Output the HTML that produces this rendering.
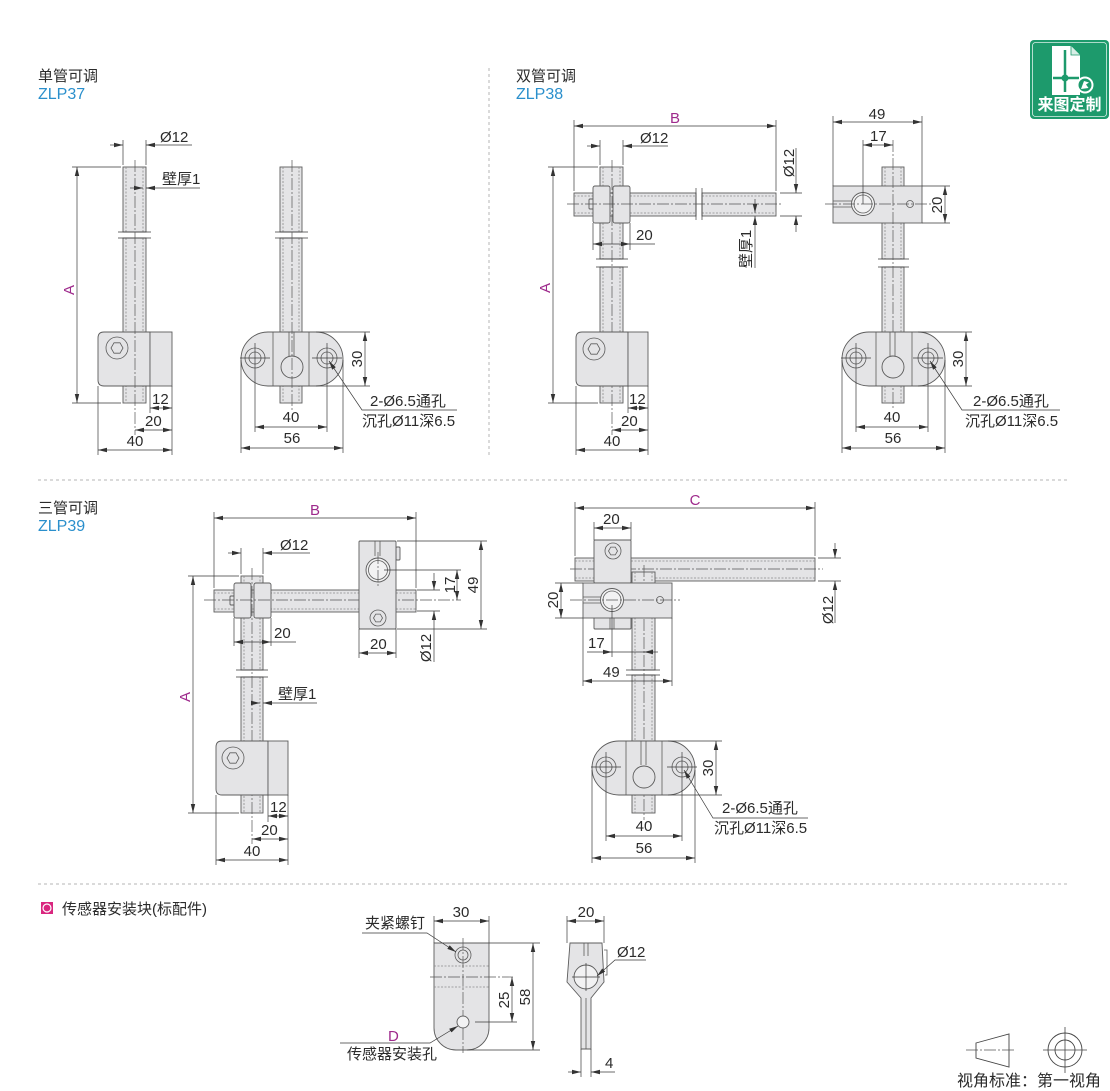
<!DOCTYPE html>
<html><head><meta charset="utf-8">
<style>
html,body{margin:0;padding:0;background:#fff;}
svg{display:block}
.o{fill:#e4e4e6;stroke:#5c5c5c;stroke-width:0.9}
.w{fill:#f2f2f3;stroke:#5c5c5c;stroke-width:0.9}
.k{fill:none;stroke:#5c5c5c;stroke-width:0.8}
.d{stroke:#3a3a3a;stroke-width:0.7;fill:none}
.dd{stroke:#3a3a3a;stroke-width:0.7;fill:none;marker-start:url(#a);marker-end:url(#a)}
.de{stroke:#3a3a3a;stroke-width:0.7;fill:none;marker-end:url(#a)}
.cl{stroke:#555;stroke-width:0.7;stroke-dasharray:12 2 2 2;fill:none}
.hd{stroke:#8a8a8a;stroke-width:0.8;stroke-dasharray:2 1.5;fill:none}
.sep{stroke:#b4b4b4;stroke-width:1;stroke-dasharray:3 3;fill:none}
text{font-family:"Liberation Sans","Noto Sans CJK SC",sans-serif;fill:#2b2b2b;font-size:15px}
.m{fill:#9e2a8c}
.b{fill:#2a8fcc;font-size:16px}
.cn{font-size:15px}
</style></head><body>
<svg width="1110" height="1091" viewBox="0 0 1110 1091" xmlns="http://www.w3.org/2000/svg">
<defs>
<marker id="a" viewBox="0 0 9 6" refX="9" refY="3" markerWidth="9" markerHeight="6" markerUnits="userSpaceOnUse" orient="auto-start-reverse"><path d="M0,0.8L9,3L0,5.2Z" fill="#333"/></marker>
</defs>

<!-- separators -->
<line class="sep" x1="489" y1="68" x2="489" y2="457"/>
<line class="sep" x1="38" y1="480" x2="1070" y2="480"/>
<line class="sep" x1="38" y1="884" x2="1070" y2="884"/>

<!-- logo -->
<rect x="1030" y="40" width="79" height="79" rx="4" fill="#1d9a6c"/>
<rect x="1032.5" y="42.5" width="74" height="74" rx="3" fill="none" stroke="#fff" stroke-width="0.8" opacity="0.85"/>
<path d="M1052,46H1071L1080,55V95H1052Z" fill="#fff"/>
<path d="M1071,46V55H1080" fill="#d8eee6" stroke="#1d9a6c" stroke-width="0.8"/>
<path d="M1065,50V92M1053,78H1079" stroke="#1d9a6c" stroke-width="2.5"/>
<circle cx="1065" cy="78" r="3.5" fill="#1d9a6c"/>
<circle cx="1085" cy="85" r="7.5" fill="#1d9a6c" stroke="#fff" stroke-width="2"/>
<path d="M1081,89L1084,81L1089,82.5L1086,84.5L1088.5,88Z" fill="#fff"/>
<text x="1069.5" y="110" text-anchor="middle" font-weight="bold" font-size="16" style="fill:#fff;font-size:16px">来图定制</text>

<!-- ================= ZLP37 ================= -->
<text x="38" y="81" class="cn">单管可调</text>
<text x="38" y="99" class="b">ZLP37</text>

<!-- left view -->
<rect class="o" x="123" y="167" width="23" height="65"/>
<rect class="o" x="123" y="238" width="23" height="165"/>
<path class="hd" d="M126,167V232M143,167V232M126,238V403M143,238V403"/>
<path class="d" d="M118,232H151M118,238H151"/>
<path class="o" d="M104,332H150V386H104Q98,386 98,380V338Q98,332 104,332Z"/>
<rect class="o" x="150" y="332" width="22" height="54"/>
<circle class="k" cx="117" cy="348" r="11"/>
<polygon class="k" points="123,348 120,353.2 114,353.2 111,348 114,342.8 120,342.8"/>
<line class="cl" x1="135" y1="160" x2="135" y2="435"/>
<!-- dims -->
<path class="d" d="M123,140V165M146,140V165"/>
<line class="de" x1="110" y1="145" x2="123" y2="145"/>
<line class="de" x1="192" y1="145" x2="146" y2="145"/>
<text x="160" y="142">Ø12</text>
<line class="de" x1="130" y1="188" x2="143" y2="188"/>
<line class="de" x1="200" y1="188" x2="146" y2="188"/>
<text x="162" y="184">壁厚1</text>
<path class="d" d="M72,167H121M72,403H121"/>
<line class="dd" x1="77" y1="167" x2="77" y2="403"/>
<text class="m" transform="translate(74,290) rotate(-90)" text-anchor="middle">A</text>
<path class="d" d="M150,386V413M172,386V455M98,386V455"/>
<line class="dd" x1="150" y1="408" x2="172" y2="408"/>
<text x="152" y="404">12</text>
<line class="dd" x1="135" y1="430" x2="172" y2="430"/>
<text x="145" y="426">20</text>
<line class="dd" x1="98" y1="450" x2="172" y2="450"/>
<text x="135" y="446" text-anchor="middle">40</text>

<!-- right view -->
<rect class="o" x="280" y="167" width="22" height="65"/>
<rect class="o" x="280" y="238" width="22" height="165"/>
<path class="hd" d="M283,167V232M299,167V232M283,238V403M299,238V403"/>
<path class="d" d="M275,232H308M275,238H308"/>
<path class="o" d="M268,332H316A27,27 0 0 1 316,386H268A27,27 0 0 1 268,332Z"/>
<path class="k" d="M273,332V386M309,332V386M289,332V356M294,332V356"/>
<circle class="o" cx="292" cy="367" r="11"/>
<circle class="k" cx="255" cy="358" r="10"/><circle class="k" cx="255" cy="358" r="6"/>
<circle class="k" cx="327" cy="358" r="10"/><circle class="k" cx="327" cy="358" r="6"/>
<path class="d" d="M240,358H270M255,343V373M312,358H342M327,343V373"/>
<line class="cl" x1="292" y1="160" x2="292" y2="410"/>
<path class="d" d="M316,332H370M316,386H370"/>
<line class="dd" x1="365" y1="332" x2="365" y2="386"/>
<text transform="translate(362,359) rotate(-90)" text-anchor="middle">30</text>
<polyline class="de" points="457,410 362,410 329,361"/>
<text x="370" y="406">2-Ø6.5通孔</text>
<text x="362" y="426">沉孔Ø11深6.5</text>
<path class="d" d="M255,373V432M327,373V432M241,360V453M343,360V453"/>
<line class="dd" x1="255" y1="427" x2="327" y2="427"/>
<text x="291" y="422" text-anchor="middle">40</text>
<line class="dd" x1="241" y1="448" x2="343" y2="448"/>
<text x="292" y="443" text-anchor="middle">56</text>

<!-- ================= ZLP38 ================= -->
<text x="516" y="81" class="cn">双管可调</text>
<text x="516" y="99" class="b">ZLP38</text>

<!-- left view -->
<rect class="o" x="600" y="167" width="23" height="92"/>
<rect class="o" x="600" y="267" width="23" height="136"/>
<path class="hd" d="M603,167V259M620,167V259M603,267V403M620,267V403"/>
<path class="d" d="M596,259H628M596,267H628"/>
<rect class="o" x="574" y="193" width="122" height="23"/>
<rect class="o" x="702" y="193" width="74" height="23"/>
<path class="hd" d="M574,196H696M574,213H696M702,196H776M702,213H776"/>
<path class="d" d="M696,188V220M702,188V220"/>
<rect class="o" x="589" y="199" width="5" height="10" rx="1"/>
<rect class="o" x="593" y="186" width="17" height="37" rx="2"/>
<rect class="o" x="613" y="186" width="17" height="37" rx="2"/>
<line class="cl" x1="567" y1="204" x2="782" y2="204"/>
<line class="cl" x1="612" y1="160" x2="612" y2="435"/>
<path class="o" d="M582,332H628V386H582Q576,386 576,380V338Q576,332 582,332Z"/>
<rect class="o" x="628" y="332" width="20" height="54"/>
<circle class="k" cx="594" cy="349" r="11"/>
<polygon class="k" points="600,349 597,354.2 591,354.2 588,349 591,343.8 597,343.8"/>
<!-- dims -->
<path class="d" d="M574,120V191M776,120V191"/>
<line class="dd" x1="574" y1="126" x2="776" y2="126"/>
<text class="m" x="675" y="123" text-anchor="middle">B</text>
<path class="d" d="M600,140V165M623,140V165"/>
<line class="de" x1="587" y1="146" x2="600" y2="146"/>
<line class="de" x1="668" y1="146" x2="623" y2="146"/>
<text x="640" y="143">Ø12</text>
<path class="d" d="M548,167H598M548,403H598"/>
<line class="dd" x1="553" y1="167" x2="553" y2="403"/>
<text class="m" transform="translate(550,288) rotate(-90)" text-anchor="middle">A</text>
<path class="d" d="M780,193H802M780,216H802"/>
<line class="de" x1="796" y1="148" x2="796" y2="193"/>
<line class="de" x1="796" y1="232" x2="796" y2="216"/>
<text transform="translate(794,163) rotate(-90)" text-anchor="middle">Ø12</text>
<line class="de" x1="755" y1="199" x2="755" y2="213"/>
<line class="de" x1="755" y1="268" x2="755" y2="216"/>
<text transform="translate(751,249) rotate(-90)" text-anchor="middle">壁厚1</text>
<path class="d" d="M593,223V250M630,223V250"/>
<line class="dd" x1="593" y1="244" x2="630" y2="244"/>
<line class="d" x1="630" y1="244" x2="655" y2="244"/>
<text x="636" y="240">20</text>
<path class="d" d="M628,386V413M648,386V455M576,386V455"/>
<line class="dd" x1="628" y1="408" x2="648" y2="408"/>
<text x="629" y="404">12</text>
<line class="dd" x1="612" y1="430" x2="648" y2="430"/>
<text x="621" y="426">20</text>
<line class="dd" x1="576" y1="450" x2="648" y2="450"/>
<text x="612" y="446" text-anchor="middle">40</text>

<!-- right view -->
<rect class="o" x="882" y="167" width="22" height="92"/>
<rect class="o" x="882" y="267" width="22" height="136"/>
<path class="hd" d="M885,167V259M901,167V259M885,267V403M901,267V403"/>
<path class="d" d="M878,259H909M878,267H909"/>
<rect class="o" x="833" y="186" width="89" height="37"/>
<path class="k" d="M833,201H852M833,207H852"/>
<circle class="w" cx="863" cy="204" r="11.5"/>
<circle class="k" cx="863" cy="204" r="9"/>
<circle class="k" cx="910" cy="204" r="3.5"/>
<line class="cl" x1="825" y1="204" x2="935" y2="204"/>
<line class="cl" x1="893" y1="140" x2="893" y2="410"/>
<path class="o" d="M869,332H918A27,27 0 0 1 918,386H869A27,27 0 0 1 869,332Z"/>
<path class="k" d="M876,332V386M912,332V386M890,332V356M895,332V356"/>
<circle class="o" cx="893" cy="367" r="11"/>
<circle class="k" cx="856" cy="358" r="10"/><circle class="k" cx="856" cy="358" r="6"/>
<circle class="k" cx="928" cy="358" r="10"/><circle class="k" cx="928" cy="358" r="6"/>
<path class="d" d="M841,358H871M856,343V373M913,358H943M928,343V373"/>
<!-- dims -->
<path class="d" d="M833,116V186M922,116V186M863,140V204"/>
<line class="dd" x1="833" y1="122" x2="922" y2="122"/>
<text x="877" y="119" text-anchor="middle">49</text>
<line class="dd" x1="863" y1="145" x2="893" y2="145"/>
<text x="870" y="141">17</text>
<path class="d" d="M922,186H950M922,223H950"/>
<line class="dd" x1="945" y1="186" x2="945" y2="223"/>
<text transform="translate(942,205) rotate(-90)" text-anchor="middle">20</text>
<path class="d" d="M918,332H972M918,386H972"/>
<line class="dd" x1="966" y1="332" x2="966" y2="386"/>
<text transform="translate(963,359) rotate(-90)" text-anchor="middle">30</text>
<polyline class="de" points="1060,410 962,410 930,361"/>
<text x="973" y="406">2-Ø6.5通孔</text>
<text x="965" y="426">沉孔Ø11深6.5</text>
<path class="d" d="M856,373V432M928,373V432M842,360V453M945,360V453"/>
<line class="dd" x1="856" y1="427" x2="928" y2="427"/>
<text x="892" y="422" text-anchor="middle">40</text>
<line class="dd" x1="842" y1="448" x2="945" y2="448"/>
<text x="893" y="443" text-anchor="middle">56</text>

<!-- ================= ZLP39 ================= -->
<text x="38" y="513" class="cn">三管可调</text>
<text x="38" y="531" class="b">ZLP39</text>

<!-- left view -->
<rect class="o" x="241" y="576" width="22" height="94"/>
<rect class="o" x="241" y="677" width="22" height="136"/>
<path class="hd" d="M244,576V670M260,576V670M244,677V813M260,677V813"/>
<path class="d" d="M236,670H268M236,677H268"/>
<rect class="o" x="214" y="590" width="202" height="22"/>
<path class="hd" d="M214,593H416M214,609H416"/>
<rect class="o" x="230" y="596" width="5" height="9" rx="1"/>
<rect class="o" x="234" y="583" width="17" height="35" rx="2"/>
<rect class="o" x="254" y="583" width="17" height="35" rx="2"/>
<line class="cl" x1="204" y1="600" x2="461" y2="600"/>
<line class="cl" x1="252" y1="568" x2="252" y2="844"/>
<rect class="o" x="396" y="547" width="4" height="13" rx="1"/>
<rect class="o" x="359" y="541" width="37" height="88" rx="1"/>
<path class="k" d="M375,541V556M380,541V556"/>
<circle class="w" cx="378" cy="570" r="12"/>
<circle class="k" cx="378" cy="570" r="9.5"/>
<circle class="k" cx="378" cy="618" r="8"/>
<polygon class="k" points="382.5,618 380.25,621.9 375.75,621.9 373.5,618 375.75,614.1 380.25,614.1"/>
<line class="cl" x1="378" y1="552" x2="378" y2="588"/>
<path class="o" d="M222,741H268V795H222Q216,795 216,789V747Q216,741 222,741Z"/>
<rect class="o" x="268" y="741" width="20" height="54"/>
<circle class="k" cx="233" cy="758" r="11"/>
<polygon class="k" points="239,758 236,763.2 230,763.2 227,758 230,752.8 236,752.8"/>
<!-- dims -->
<path class="d" d="M214,512V588M416,512V588"/>
<line class="dd" x1="214" y1="518" x2="416" y2="518"/>
<text class="m" x="315" y="515" text-anchor="middle">B</text>
<path class="d" d="M241,548V574M263,548V574"/>
<line class="de" x1="228" y1="553" x2="241" y2="553"/>
<line class="de" x1="310" y1="553" x2="263" y2="553"/>
<text x="280" y="550">Ø12</text>
<path class="d" d="M384,570H461M417,590H440M417,611H440"/>
<line class="dd" x1="457" y1="570" x2="457" y2="600"/>
<text transform="translate(455,585) rotate(-90)" text-anchor="middle">17</text>
<line class="de" x1="434" y1="573" x2="434" y2="590"/>
<line class="de" x1="434" y1="662" x2="434" y2="611"/>
<text transform="translate(431,648) rotate(-90)" text-anchor="middle">Ø12</text>
<path class="d" d="M397,541H487M397,629H487"/>
<line class="dd" x1="481" y1="541" x2="481" y2="629"/>
<text transform="translate(478,585) rotate(-90)" text-anchor="middle">49</text>
<path class="d" d="M359,629V658M396,629V658"/>
<line class="dd" x1="359" y1="653" x2="396" y2="653"/>
<text x="370" y="649">20</text>
<path class="d" d="M234,618V646M271,618V646"/>
<line class="dd" x1="234" y1="642" x2="271" y2="642"/>
<line class="d" x1="271" y1="642" x2="296" y2="642"/>
<text x="274" y="638">20</text>
<line class="de" x1="252" y1="703" x2="260" y2="703"/>
<line class="de" x1="317" y1="703" x2="263" y2="703"/>
<text x="278" y="699">壁厚1</text>
<path class="d" d="M188,576H239M188,813H239"/>
<line class="dd" x1="193" y1="576" x2="193" y2="813"/>
<text class="m" transform="translate(190,697) rotate(-90)" text-anchor="middle">A</text>
<path class="d" d="M268,795V822M288,795V865M216,795V865"/>
<line class="dd" x1="268" y1="816" x2="288" y2="816"/>
<text x="270" y="812">12</text>
<line class="dd" x1="252" y1="839" x2="288" y2="839"/>
<text x="261" y="835">20</text>
<line class="dd" x1="216" y1="860" x2="288" y2="860"/>
<text x="252" y="856" text-anchor="middle">40</text>

<!-- right view -->
<rect class="o" x="575" y="558" width="240" height="23"/>
<path class="hd" d="M575,561H815M575,578H815"/>
<line class="cl" x1="570" y1="569" x2="823" y2="569"/>
<rect class="o" x="594" y="540" width="37" height="43" rx="1"/>
<circle class="k" cx="613" cy="551" r="8"/>
<polygon class="k" points="617.5,551 615.25,554.9 610.75,554.9 608.5,551 610.75,547.1 615.25,547.1"/>
<rect class="o" x="632" y="572" width="23" height="98"/>
<rect class="o" x="632" y="675" width="23" height="138"/>
<path class="hd" d="M635,572V670M652,572V670M635,675V813M652,675V813"/>
<path class="d" d="M626,670H660M626,675H660"/>
<line class="cl" x1="644" y1="565" x2="644" y2="820"/>
<rect class="o" x="594" y="615" width="37" height="14" rx="1"/>
<path class="k" d="M610,618V629M614,618V629"/>
<rect class="o" x="583" y="583" width="89" height="35"/>
<path class="k" d="M583,597H601M583,603H601"/>
<circle class="w" cx="612" cy="600" r="11.5"/>
<circle class="k" cx="612" cy="600" r="9"/>
<circle class="k" cx="660" cy="600" r="3.5"/>
<line class="cl" x1="570" y1="600" x2="680" y2="600"/>
<path class="o" d="M619,741H668A27,27 0 0 1 668,795H619A27,27 0 0 1 619,741Z"/>
<path class="k" d="M626,741V795M662,741V795M641,741V765M646,741V765"/>
<circle class="o" cx="644" cy="777" r="11"/>
<circle class="k" cx="606" cy="767" r="10"/><circle class="k" cx="606" cy="767" r="6"/>
<circle class="k" cx="682" cy="767" r="10"/><circle class="k" cx="682" cy="767" r="6"/>
<path class="d" d="M591,767H621M606,752V782M667,767H697M682,752V782"/>
<!-- dims -->
<path class="d" d="M575,502V556M815,502V556"/>
<line class="dd" x1="575" y1="508" x2="815" y2="508"/>
<text class="m" x="695" y="505" text-anchor="middle">C</text>
<path class="d" d="M594,522V540M631,522V540"/>
<line class="dd" x1="594" y1="528" x2="631" y2="528"/>
<text x="603" y="524">20</text>
<path class="d" d="M555,583H583M555,618H583"/>
<line class="dd" x1="561" y1="583" x2="561" y2="618"/>
<text transform="translate(558,600) rotate(-90)" text-anchor="middle">20</text>
<path class="d" d="M612,605V657"/>
<line class="de" x1="587" y1="652" x2="612" y2="652"/>
<line class="de" x1="658" y1="652" x2="644" y2="652"/>
<line class="d" x1="612" y1="652" x2="644" y2="652"/>
<text x="588" y="648">17</text>
<path class="d" d="M583,618V686M672,618V686"/>
<line class="dd" x1="583" y1="681" x2="672" y2="681"/>
<text x="603" y="677">49</text>
<path class="d" d="M818,558H841M818,581H841"/>
<line class="de" x1="835" y1="543" x2="835" y2="558"/>
<line class="de" x1="835" y1="623" x2="835" y2="581"/>
<text transform="translate(833,610) rotate(-90)" text-anchor="middle">Ø12</text>
<path class="d" d="M668,741H722M668,795H722"/>
<line class="dd" x1="716" y1="741" x2="716" y2="795"/>
<text transform="translate(713,768) rotate(-90)" text-anchor="middle">30</text>
<polyline class="de" points="808,818 713,818 684,770"/>
<text x="722" y="813">2-Ø6.5通孔</text>
<text x="714" y="833">沉孔Ø11深6.5</text>
<path class="d" d="M606,782V841M682,782V841M592,770V863M695,770V863"/>
<line class="dd" x1="606" y1="836" x2="682" y2="836"/>
<text x="644" y="831" text-anchor="middle">40</text>
<line class="dd" x1="592" y1="858" x2="695" y2="858"/>
<text x="644" y="853" text-anchor="middle">56</text>

<!-- ================= sensor block ================= -->
<rect x="41" y="902" width="12" height="12" fill="#d9267f"/>
<circle cx="47" cy="908" r="4" fill="none" stroke="#fff" stroke-width="1.2"/>
<text x="62" y="914" class="cn">传感器安装块(标配件)</text>

<path class="o" d="M434,943H489V1028A22,22 0 0 1 467,1050H456A22,22 0 0 1 434,1028Z"/>
<path class="hd" d="M434,966H489M434,987H489"/>
<line class="cl" x1="430" y1="977" x2="513" y2="977"/>
<line class="cl" x1="463" y1="938" x2="463" y2="1053"/>
<circle class="k" cx="463" cy="955" r="8"/>
<circle class="k" cx="463" cy="955" r="5"/>
<circle class="w" cx="463" cy="1022" r="6"/>
<path class="d" d="M475,1022H517M467,1050H540M489,943H540M434,916V943M489,916V943"/>
<line class="dd" x1="434" y1="921" x2="489" y2="921"/>
<text x="461" y="917" text-anchor="middle">30</text>
<text x="365" y="928">夹紧螺钉</text>
<polyline class="de" points="362,933 427,933 456,952"/>
<line class="dd" x1="512" y1="977" x2="512" y2="1022"/>
<text transform="translate(509,1000) rotate(-90)" text-anchor="middle">25</text>
<line class="dd" x1="533" y1="943" x2="533" y2="1050"/>
<text transform="translate(530,997) rotate(-90)" text-anchor="middle">58</text>
<text class="m" x="388" y="1041">D</text>
<text x="347" y="1059">传感器安装孔</text>
<polyline class="de" points="340,1043 430,1043 458,1026"/>

<!-- side view -->
<path class="o" d="M570,943H602L604,982L591,998V1049H581V998L567,982Z"/>
<path class="k" d="M584,943V956M588,943V956M604,950H607V975H605"/>
<circle class="w" cx="586" cy="977" r="12"/>
<path class="d" d="M572,977H600M586,963V991"/>
<path class="k" d="M586,998V1049"/>
<path class="d" d="M567,916V943M604,916V943"/>
<line class="dd" x1="567" y1="921" x2="604" y2="921"/>
<text x="586" y="917" text-anchor="middle">20</text>
<text x="617" y="957">Ø12</text>
<polyline class="de" points="646,960 615,960 597,976"/>
<path class="d" d="M581,1049V1077M591,1049V1077"/>
<line class="de" x1="568" y1="1072" x2="581" y2="1072"/>
<line class="de" x1="615" y1="1072" x2="591" y2="1072"/>
<text x="605" y="1068">4</text>

<!-- viewing angle symbol -->
<polygon points="976,1043 1009,1034 1009,1067 976,1058" fill="none" stroke="#444" stroke-width="0.9"/>
<line class="cl" x1="966" y1="1050" x2="1016" y2="1050"/>
<circle cx="1065" cy="1050" r="17" fill="none" stroke="#444" stroke-width="0.9"/>
<circle cx="1065" cy="1050" r="10" fill="none" stroke="#444" stroke-width="0.9"/>
<path d="M1043,1050H1087M1065,1027V1073" stroke="#444" stroke-width="0.8"/>
<text x="957" y="1086" style="font-size:16px">视角标准：第一视角</text>
</svg>
</body></html>
